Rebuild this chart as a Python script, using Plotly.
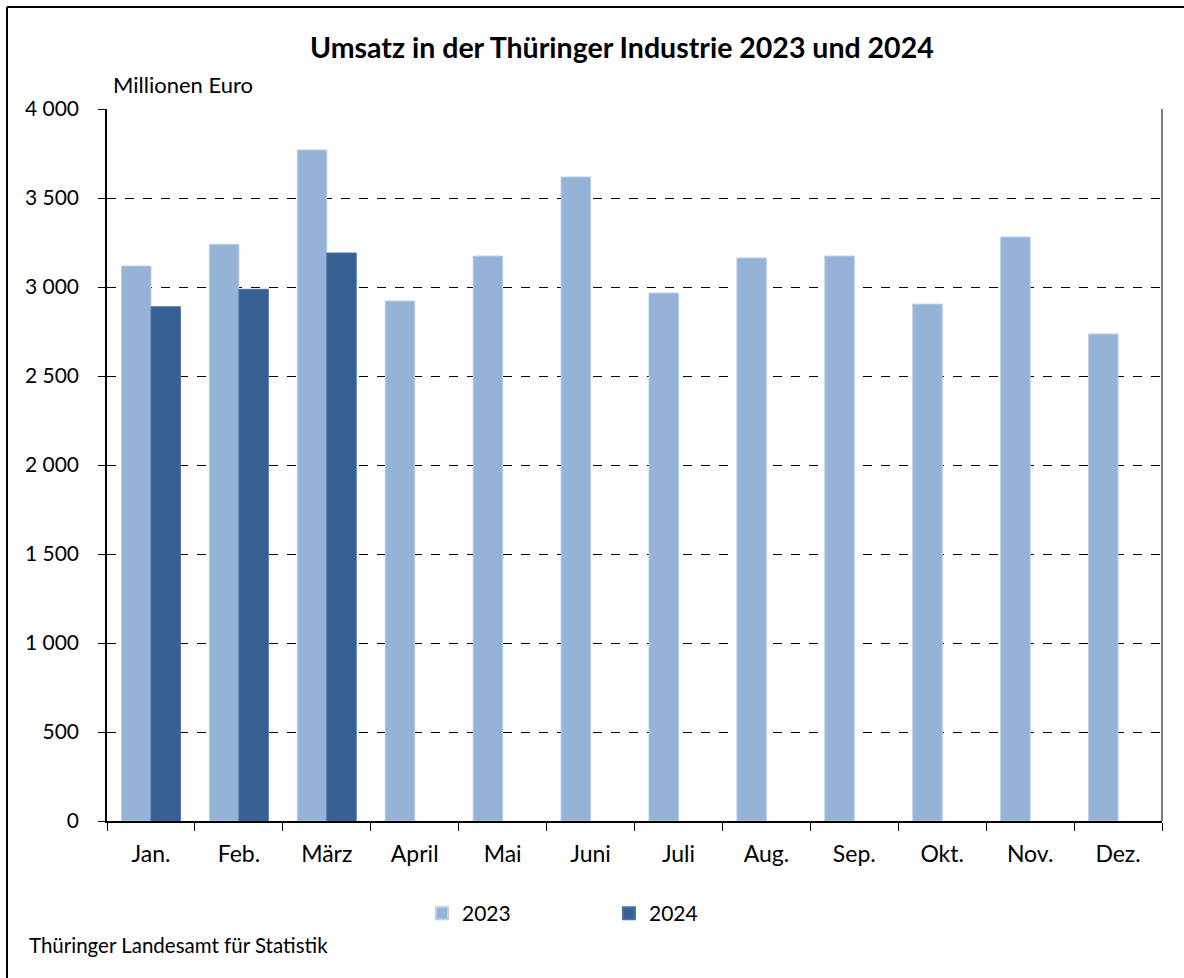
import plotly.graph_objects as go

months = ["Jan.", "Feb.", "März", "April", "Mai", "Juni", "Juli", "Aug.", "Sep.", "Okt.", "Nov.", "Dez."]
values_2023 = [3118, 3240, 3770, 2921, 3174, 3618, 2966, 3163, 3174, 2904, 3281, 2736]
values_2024 = [2889, 2987, 3191, None, None, None, None, None, None, None, None, None]
y_ticks = [0, 500, 1000, 1500, 2000, 2500, 3000, 3500, 4000]

FONT = "Source Sans Pro, Lato, sans-serif"

fig = go.Figure()
fig.add_trace(go.Bar(x=months, y=values_2023, name="2023",
                     marker=dict(color="#95B3D7", line=dict(color="#B9CDE6", width=1))))
fig.add_trace(go.Bar(x=months, y=values_2024, name="2024",
                     marker=dict(color="#366092", line=dict(color="#4A72A3", width=1))))

W, H = 1184, 978
L, R, T, B = 107, 22, 109, 157
pw, ph = W - L - R, H - T - B

def px_x(p):
    return (p - L) / pw

def px_y(p):
    return (H - B - p) / ph

fig.update_layout(
    width=W, height=H,
    margin=dict(l=L, r=R, t=T, b=B),
    paper_bgcolor="white", plot_bgcolor="white",
    font=dict(family=FONT, size=19, color="black"),
    separators=", ",
    barmode="group", bargap=0.33, bargroupgap=0,
    showlegend=True,
    legend=dict(orientation="h", x=px_x(422), y=px_y(893), xanchor="left", yanchor="top",
                entrywidth=142, entrywidthmode="pixels", font=dict(size=21),
                itemsizing="constant"),
    xaxis=dict(showline=True, linecolor="black", linewidth=1.5, ticks="outside",
               tickson="boundaries", ticklen=8, tickcolor="black", tickwidth=1,
               showgrid=False, tickfont=dict(size=23), ticklabelstandoff=12),
    yaxis=dict(range=[0, 4000], tickvals=y_ticks, showline=True, linecolor="black", linewidth=1.5,
               ticks="outside", ticklen=7, tickcolor="black", separatethousands=True,
               showgrid=True, gridcolor="black", griddash="dash", gridwidth=1,
               zeroline=False, tickfont=dict(size=21), ticklabelstandoff=15),
    annotations=[
        dict(text="<b>Umsatz in der Thüringer Industrie 2023 und 2024</b>", xref="paper", yref="paper",
             x=px_x(622), y=px_y(47), xanchor="center", yanchor="middle", showarrow=False,
             font=dict(size=28.5)),
        dict(text="Millionen Euro", xref="paper", yref="paper", x=px_x(111), y=px_y(85),
             xanchor="left", yanchor="middle", showarrow=False, font=dict(size=22)),
        dict(text="Thüringer Landesamt für Statistik", xref="paper", yref="paper",
             x=px_x(27), y=px_y(945), xanchor="left", yanchor="middle", showarrow=False,
             font=dict(size=20.5)),
    ],
    shapes=[
        dict(type="line", xref="paper", yref="paper", x0=1, x1=1, y0=0, y1=1,
             line=dict(color="#555555", width=1.5)),
        dict(type="line", xref="paper", yref="paper", x0=px_x(7), x1=px_x(7), y0=px_y(7), y1=px_y(1000),
             line=dict(color="black", width=2)),
        dict(type="line", xref="paper", yref="paper", x0=px_x(7), x1=px_x(1200), y0=px_y(7), y1=px_y(7),
             line=dict(color="black", width=2)),
    ],
)

fig.write_html("out.html", config={"displayModeBar": False},
               post_script="document.body.style.margin='0px';")
